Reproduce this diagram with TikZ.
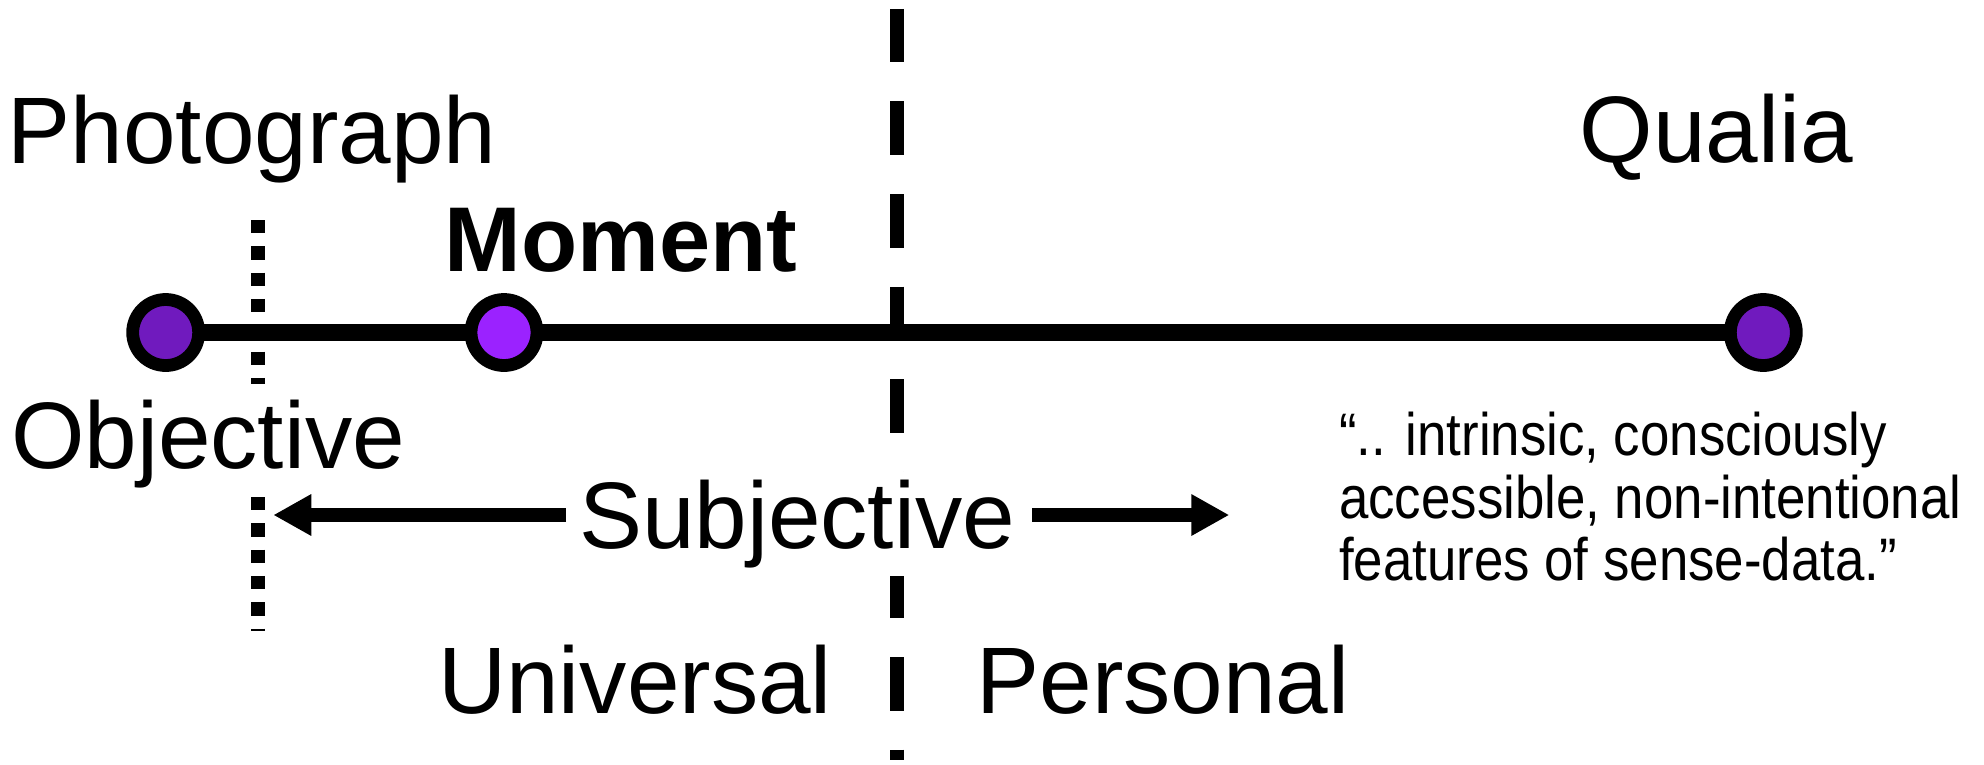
\documentclass[tikz,border=0pt]{standalone}
\usepackage{fontspec}
\setmainfont{Liberation Sans}
\newfontfamily\narrowfont[FakeStretch=0.88]{Liberation Sans}
\usetikzlibrary{arrows.meta,backgrounds}
\definecolor{pdark}{RGB}{112,26,190}
\definecolor{pbright}{RGB}{155,34,255}
\begin{document}
\begin{tikzpicture}[x=1pt,y=-1pt,
  lbl/.style={inner sep=0pt, anchor=base, font=\fontsize{94.5}{110}\selectfont},
  dot/.style={circle, draw=black, line width=12.8pt, minimum size=66pt, inner sep=0pt},
  arr/.style={line width=13.3pt, -{Triangle[length=38pt,width=39pt]}},
  quoteline/.style={inner sep=0pt, anchor=base west, font=\narrowfont\fontsize{60}{62}\selectfont},
  dashedline/.style={line width=13.3pt, dash pattern=on 53.6pt off 39pt},
  dottedline/.style={line width=13.3pt, dash pattern=on 13.3pt off 13pt}]
\useasboundingbox (0,0) rectangle (1984,764);

% dots on the scale
\node[dot, fill=pdark]   (d1) at (165.7,332.5) {};
\node[dot, fill=pbright] (d2) at (504,332.5) {};
\node[dot, fill=pdark]   (d3) at (1763.3,332.5) {};

\begin{scope}[on background layer]
  \draw[line width=17pt] (d1.center) -- (d3.center);
  \draw[dashedline] (897,8.8) -- (897,760);
  \draw[dottedline] (258,220) -- (258,384);
  \draw[dottedline] (258,497) -- (258,631);
\end{scope}

% labels
\node[lbl] (photo) at (252,163) {Photograph};
\node[lbl] (qualia) at (1716.5,162) {Qualia};
\node[lbl, font=\fontsize{92}{110}\selectfont\bfseries] (moment) at (621,271) {Moment};
\node[lbl] (obj) at (208,468) {Objective};
\node[lbl, fill=white, inner ysep=8pt] (subj) at (797,548) {Subjective};
\node[lbl] (univ) at (635,713) {Universal};
\node[lbl] (pers) at (1163,713) {Personal};

% quote
\node[quoteline] (q1) at (1339,455) {“.. intrinsic, consciously};
\node[quoteline] (q2) at (1339,518) {accessible, non-intentional};
\node[quoteline] (q3) at (1339,580) {features of sense-data.”};

% arrows
\coordinate (la0) at (566,515);
\coordinate (la1) at (273.3,515);
\coordinate (ra0) at (1032,515);
\coordinate (ra1) at (1229.3,515);
\draw[arr] (la0) -- (la1);
\draw[arr] (ra0) -- (ra1);
\end{tikzpicture}
\end{document}
